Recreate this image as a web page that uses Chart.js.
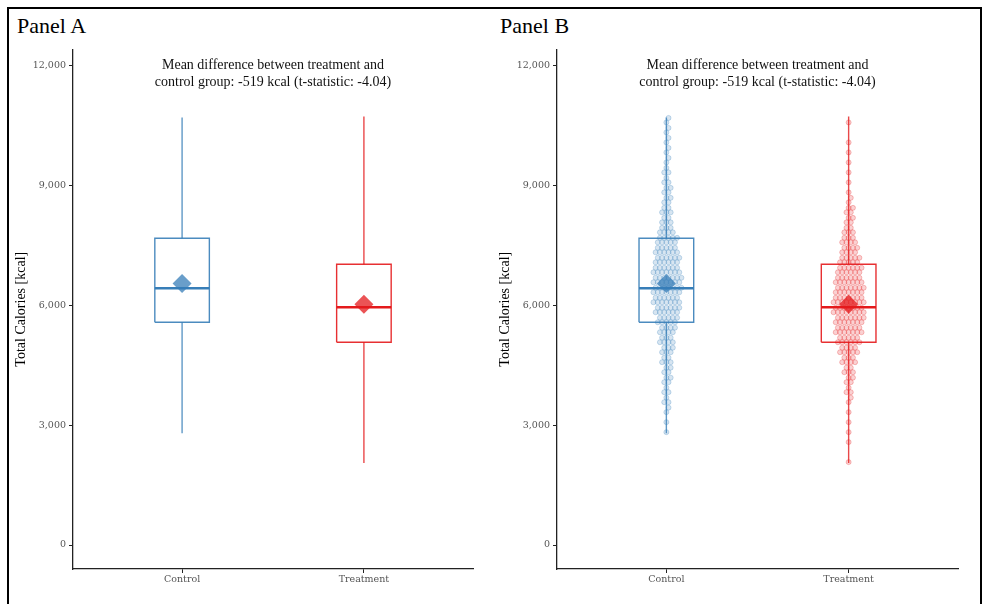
<!DOCTYPE html>
<html>
<head>
<meta charset="utf-8">
<script src="https://cdn.jsdelivr.net/npm/chart.js@4.4.1/dist/chart.umd.min.js"></script>
<style>
  html, body { margin: 0; padding: 0; background: #fff; width: 983px; height: 604px; overflow: hidden; }
  .frame { position: absolute; left: 7px; top: 7px; width: 971px; height: 660px; border: 2px solid #000; }
  .ptitle { position: absolute; top: 13px; font: 22px "Liberation Serif", serif; color: #000; line-height: normal; }
  .wrap { position: absolute; top: 40px; }
</style>
</head>
<body>
<div class="frame"></div>
<div class="ptitle" style="left:17px">Panel A</div>
<div class="ptitle" style="left:500px">Panel B</div>
<div class="wrap" style="left:0px"><canvas id="panelA" width="490" height="564"></canvas></div>
<div class="wrap" style="left:490px"><canvas id="panelB" width="493" height="564"></canvas></div>
<script>
const GROUPS       = ['Control', 'Treatment'];
const WHISKER_LOW  = [2800, 2050];
const Q1           = [5575, 5075];
const MEDIAN       = [6425, 5950];
const Q3           = [7675, 7025];
const WHISKER_HIGH = [10700, 10725];
const MEANS        = [6545, 6026];
const Y_TICKS      = [0, 3000, 6000, 9000, 12000];
const NOTE_LINES   = ['Mean difference between treatment and', 'control group: -519 kcal (t-statistic: -4.04)'];

// individual observations, counted per 250 kcal bin (bin lower edge)
const BIN_FLOOR = [2000, 2250, 2500, 2750, 3000, 3250, 3500, 3750, 4000, 4250, 4500, 4750,
                   5000, 5250, 5500, 5750, 6000, 6250, 6500, 6750, 7000, 7250, 7500, 7750,
                   8000, 8250, 8500, 8750, 9000, 9250, 9500, 9750, 10000, 10250, 10500];
const CONTROL_COUNTS   = [0, 0, 0, 1, 1, 2, 3, 3, 4, 4, 5, 6,
                          7, 8, 10, 12, 13, 14, 14, 13, 12, 11, 10, 7,
                          5, 5, 4, 4, 3, 3, 2, 2, 2, 2, 2];
const TREATMENT_COUNTS = [1, 0, 1, 1, 1, 1, 2, 3, 4, 5, 7, 9,
                          11, 13, 14, 15, 15, 14, 13, 12, 10, 8, 7, 5,
                          4, 4, 2, 1, 1, 1, 1, 1, 1, 0, 1];

const RGB = ['55,126,184', '228,26,28'];
const BIN_W = 250;
const BOX_HALF = 0.15;
const DOT_GAP = 4.3 / 182;

const rgba = (g, a) => `rgba(${RGB[g]},${a})`;

// two staggered rows per bin, so the dots pack like a beeswarm
function swarm(g) {
  const counts = g === 0 ? CONTROL_COUNTS : TREATMENT_COUNTS;
  const pts = [];
  BIN_FLOOR.forEach((lo, b) => {
    const n = counts[b];
    const rows = [Math.ceil(n / 2), Math.floor(n / 2)];
    rows.forEach((k, r) => {
      const y = lo + BIN_W * (r === 0 ? 0.3 : 0.75);
      const shift = (r === 1 && rows[0] === rows[1]) ? 0.5 : 0;
      for (let j = 0; j < k; j++) pts.push({ x: g + 1 + (j - (k - 1) / 2 + shift) * DOT_GAP, y });
    });
  });
  return pts;
}

function lineSet(data, color, width, order) {
  return { type: 'line', data, borderColor: color, borderWidth: width, pointRadius: 0,
           fill: false, tension: 0, showLine: true, order };
}

function buildDatasets(withPoints) {
  const ds = [];
  GROUPS.forEach((name, g) => {
    const x = g + 1;
    ds.push({ type: 'scatter', data: [{ x, y: MEANS[g] }], pointStyle: 'rectRot', pointRadius: 9.5,
              backgroundColor: rgba(g, 0.75), borderWidth: 0, order: 0 });
    ds.push(lineSet([{ x: x - BOX_HALF, y: MEDIAN[g] }, { x: x + BOX_HALF, y: MEDIAN[g] }], rgba(g, 1), 2.6, 1));
    ds.push(lineSet([
      { x: x - BOX_HALF, y: Q1[g] }, { x: x + BOX_HALF, y: Q1[g] }, { x: x + BOX_HALF, y: Q3[g] },
      { x: x - BOX_HALF, y: Q3[g] }, { x: x - BOX_HALF, y: Q1[g] }], rgba(g, 0.9), 1.4, 2));
    ds.push(lineSet([{ x, y: Q3[g] }, { x, y: WHISKER_HIGH[g] }], rgba(g, 0.8), 1.4, 3));
    ds.push(lineSet([{ x, y: Q1[g] }, { x, y: WHISKER_LOW[g] }], rgba(g, 0.8), 1.4, 3));
    if (withPoints) {
      ds.push({ type: 'scatter', data: swarm(g), pointRadius: 2.5, backgroundColor: rgba(g, 0.2),
                borderColor: rgba(g, 0.33), borderWidth: 0.8, order: 4 });
    }
  });
  return ds;
}

const notePlugin = {
  id: 'note',
  afterDraw(chart) {
    const { ctx, scales } = chart;
    const x = scales.x.getPixelForValue(1.5);
    const y = scales.y.getPixelForValue(12000);
    ctx.save();
    ctx.font = '14px "Liberation Serif"';
    ctx.fillStyle = '#111';
    ctx.textAlign = 'center';
    ctx.textBaseline = 'middle';
    ctx.fillText(NOTE_LINES[0], x, y);
    ctx.fillText(NOTE_LINES[1], x, y + 17);
    ctx.restore();
  },
};

function panelOptions(axisW, titlePad, padRight) {
  const tickFont = { family: 'DejaVu Serif', size: 9.5 };
  const grid = { display: true, drawOnChartArea: false, drawTicks: true, tickLength: 4, color: '#222', lineWidth: 1 };
  return {
    responsive: false,
    devicePixelRatio: 1,
    animation: false,
    layout: { padding: { top: 8, right: padRight, left: 0, bottom: 0 } },
    plugins: { legend: { display: false }, tooltip: { enabled: false } },
    scales: {
      x: {
        type: 'linear', min: 0.4, max: 2.6, offset: false,
        afterBuildTicks: s => { s.ticks = [{ value: 1 }, { value: 2 }]; },
        afterFit: s => { s.height = 35; },
        ticks: { callback: v => GROUPS[v - 1], color: '#555', font: tickFont, padding: 1, autoSkip: false, maxRotation: 0 },
        grid,
        border: { display: true, color: '#222', width: 1.3 },
      },
      y: {
        type: 'linear', min: -600, max: 12400,
        afterBuildTicks: s => { s.ticks = Y_TICKS.map(v => ({ value: v })); },
        afterFit: s => { s.width = axisW; },
        ticks: { callback: v => v.toLocaleString('en-US'), color: '#555', font: tickFont, padding: 3 },
        grid,
        border: { display: true, color: '#222', width: 1.3 },
        title: { display: true, text: 'Total Calories [kcal]', color: '#000',
                 font: { family: 'Liberation Serif', size: 14 }, padding: { top: titlePad, bottom: 0 } },
      },
    },
  };
}

new Chart(document.getElementById('panelA'), {
  type: 'scatter',
  data: { datasets: buildDatasets(false) },
  options: panelOptions(73, 13, 17),
  plugins: [notePlugin],
});

new Chart(document.getElementById('panelB'), {
  type: 'scatter',
  data: { datasets: buildDatasets(true) },
  options: panelOptions(67, 7, 25),
  plugins: [notePlugin],
});
</script>
</body>
</html>
